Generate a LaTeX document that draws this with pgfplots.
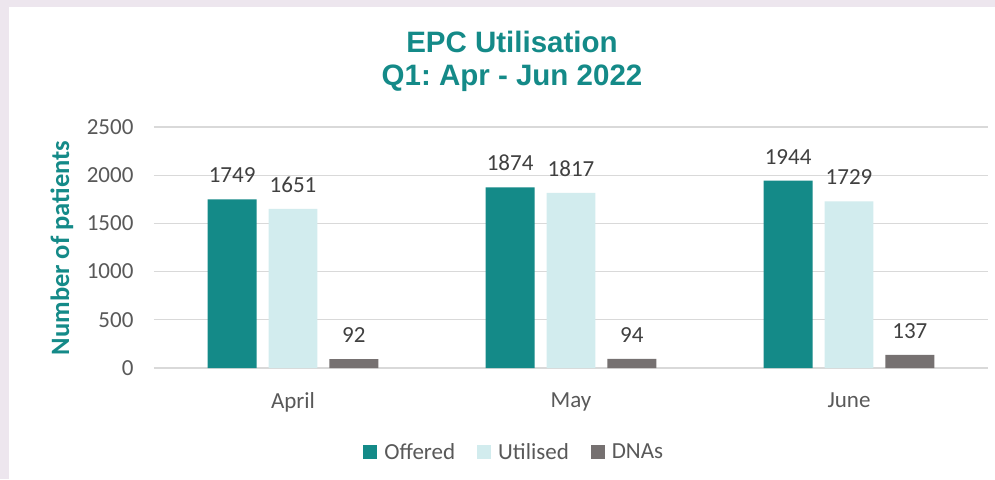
\documentclass[border=0pt]{standalone}
\usepackage{pgfplots}
\pgfplotsset{compat=1.18}
\usepackage{fontspec}
\setmainfont{Carlito}
\newfontfamily\arialb{Liberation Sans}
\definecolor{teal1}{HTML}{148A88}
\definecolor{lteal}{HTML}{D2ECEE}
\definecolor{dgray}{HTML}{767171}
\definecolor{txt}{HTML}{595959}
\definecolor{lbl}{HTML}{404040}
\definecolor{bg}{HTML}{EDE6EE}
\definecolor{gridc}{HTML}{D9D9D9}
\frenchspacing
\begin{document}
\begin{tikzpicture}[x=1pt,y=1pt]
\fill[bg] (-154,368) rectangle (841,-111);
\fill[white] (-145,361) rectangle (841,-111);
\path[use as bounding box] (-154,368) rectangle (841,-111);
\begin{axis}[at={(0,0)}, anchor=south west, scale only axis,
  width=834pt, height=241pt,
  xmin=-0.5, xmax=2.5, ymin=0, ymax=2500,
  enlargelimits=false,
  /pgf/number format/assume math mode=true,
  /pgf/number format/1000 sep={},
  ytick={0,500,...,2500}, xtick={0,1,2}, xticklabels={April,May,June},
  axis line style={draw=none}, major tick length=0pt,
  ymajorgrids, grid style={gridc, line width=1.2pt},
  tick label style={font=\fontsize{23}{27}\selectfont, text=txt},
  yticklabel style={xshift=-17pt},
  xticklabel style={yshift=-21pt},
  ybar, bar width=0.176,
  nodes near coords,
  nodes near coords style={font=\fontsize{23}{27}\selectfont, text=lbl, yshift=13pt},
  legend columns=3,
  legend style={at={(0.432,-0.349)}, anchor=center, draw=none, fill=none,
    font=\fontsize{23}{27}\selectfont, text=txt,
    /tikz/every odd column/.append style={column sep=5pt},
    /tikz/every even column/.append style={column sep=20pt}},
  legend image code/.code={\fill[#1] (0pt,-7pt) rectangle (14pt,7pt);},
]
\addplot[fill=teal1, draw=none, bar shift=-0.219] coordinates {(0,1749) (1,1874) (2,1944)};
\addplot[fill=lteal, draw=none, bar shift=0] coordinates {(0,1651) (1,1817) (2,1729)};
\addplot[fill=dgray, draw=none, bar shift=0.219] coordinates {(0,92) (1,94) (2,137)};
\legend{Offered, Utilised, DNAs}
\end{axis}
\node[font=\arialb\bfseries\fontsize{29.5}{33}\selectfont, text=teal1, align=center] at (358,307) {EPC Utilisation\\Q1: Apr - Jun 2022};
\node[rotate=90, font=\bfseries\fontsize{26.5}{30}\selectfont, text=teal1] at (-92,120) {Number of patients};
\end{tikzpicture}
\end{document}
